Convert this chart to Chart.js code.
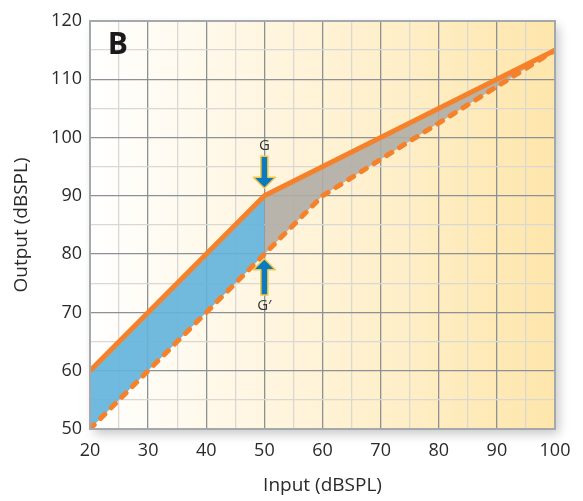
<!DOCTYPE html>
<html lang="en">
<head>
  <meta charset="UTF-8">
  <title>Input / Output</title>
  <script src="https://cdn.jsdelivr.net/npm/chart.js"></script>
  <style>
    html, body { margin: 0; padding: 0; background: #fff; }
    #wrap { width: 583px; height: 501px; }
  </style>
</head>
<body>
  <div id="wrap"><canvas id="ioChart" width="583" height="501"></canvas></div>

  <script>
    const compressedX = [20, 50, 100];
    const compressedY = [60, 90, 115];
    const linearX = [20, 50, 60, 100];
    const linearY = [50, 80, 90, 115];
    const kneeInput = 50;
    const xTicks = [20, 30, 40, 50, 60, 70, 80, 90, 100];
    const yTicks = [50, 60, 70, 80, 90, 100, 110, 120];

    const ORANGE = '#f5822a';
    const FONT = '"Open Sans", "Liberation Sans", sans-serif';

    function toPoints(xs, ys) {
      return xs.map((x, i) => ({ x: x, y: ys[i] }));
    }
    const compressed = toPoints(compressedX, compressedY);
    const linear = toPoints(linearX, linearY);

    // fill regions split at the knee
    const blueTop = compressed.filter(p => p.x <= kneeInput);
    const blueBottom = linear.filter(p => p.x <= kneeInput);
    const greyTop = compressed.filter(p => p.x >= kneeInput);
    const greyBottom = linear.filter(p => p.x >= kneeInput);

    // background gradient, shadow and border of the plot area
    const plotBackground = {
      id: 'plotBackground',
      beforeDraw(chart) {
        const { ctx, chartArea: a } = chart;
        ctx.save();
        ctx.shadowColor = 'rgba(0,0,0,0.22)';
        ctx.shadowBlur = 10;
        ctx.shadowOffsetX = 4;
        ctx.shadowOffsetY = 5;
        ctx.fillStyle = '#fff';
        ctx.fillRect(a.left, a.top, a.width, a.height);
        ctx.restore();
        ctx.save();
        const g = ctx.createLinearGradient(a.left, 0, a.right, 0);
        g.addColorStop(0, '#ffffff');
        g.addColorStop(0.45, '#fff4da');
        g.addColorStop(1, '#fee6ab');
        ctx.fillStyle = g;
        ctx.fillRect(a.left, a.top, a.width, a.height);
        ctx.restore();
      },
      afterDraw(chart) {
        const { ctx, chartArea: a } = chart;
        ctx.save();
        ctx.strokeStyle = '#a4a9ae';
        ctx.lineWidth = 2;
        ctx.strokeRect(a.left, a.top, a.width, a.height);
        ctx.restore();
      }
    };

    function drawArrow(ctx, x, yTail, yTip) {
      const dir = yTip > yTail ? 1 : -1;
      const head = 11 * dir;
      ctx.beginPath();
      ctx.moveTo(x - 3.5, yTail);
      ctx.lineTo(x + 3.5, yTail);
      ctx.lineTo(x + 3.5, yTip - head);
      ctx.lineTo(x + 11, yTip - head);
      ctx.lineTo(x, yTip);
      ctx.lineTo(x - 11, yTip - head);
      ctx.lineTo(x - 3.5, yTip - head);
      ctx.closePath();
      ctx.fillStyle = '#0b7bc0';
      ctx.strokeStyle = '#f4c64a';
      ctx.lineWidth = 1.5;
      ctx.lineJoin = 'round';
      ctx.fill();
      ctx.stroke();
    }

    // G / G' arrows and the panel letter
    const annotations = {
      id: 'annotations',
      afterDatasetsDraw(chart) {
        const { ctx, scales: { x, y } } = chart;
        const px = x.getPixelForValue(kneeInput);
        ctx.save();
        drawArrow(ctx, px, y.getPixelForValue(96.8), y.getPixelForValue(91.3));
        drawArrow(ctx, px, y.getPixelForValue(73), y.getPixelForValue(79.2));
        ctx.fillStyle = '#333';
        ctx.font = '15px ' + FONT;
        ctx.textAlign = 'center';
        ctx.textBaseline = 'middle';
        ctx.fillText('G', px, y.getPixelForValue(98.6));
        ctx.fillText('G\u2032', px, y.getPixelForValue(71.2));
        ctx.font = 'bold 30px ' + FONT;
        ctx.fillStyle = '#1a1a1a';
        ctx.fillText('B', x.getPixelForValue(24.8), y.getPixelForValue(115.8));
        ctx.restore();
      }
    };

    const gridColor = ctx => (ctx.tick && ctx.tick.value % 10 === 0) ? '#8c9196' : '#d9d8d3';

    const ctx = document.getElementById('ioChart').getContext('2d');
    new Chart(ctx, {
      type: 'line',
      data: {
        datasets: [
          {
            data: blueTop, borderWidth: 0, pointRadius: 0,
            fill: '+1', backgroundColor: 'rgba(98,178,220,0.9)', order: 5
          },
          {
            data: blueBottom, borderWidth: 0, pointRadius: 0,
            fill: false, order: 5
          },
          {
            data: greyTop, borderWidth: 0, pointRadius: 0,
            fill: '+1', backgroundColor: 'rgba(176,173,166,0.9)', order: 5
          },
          {
            data: greyBottom, borderWidth: 0, pointRadius: 0,
            fill: false, order: 5
          },
          {
            data: linear, borderColor: ORANGE, borderWidth: 5,
            borderDash: [6, 9], borderCapStyle: 'round',
            pointRadius: 0, fill: false, order: 1
          },
          {
            data: compressed, borderColor: ORANGE, borderWidth: 5,
            borderCapStyle: 'round', borderJoinStyle: 'round',
            pointRadius: 0, fill: false, order: 0
          }
        ]
      },
      options: {
        responsive: false,
        animation: false,
        parsing: false,
        layout: { padding: { top: 21, right: 28, left: 0, bottom: 0 } },
        plugins: {
          legend: { display: false },
          tooltip: { enabled: false },
          filler: { drawTime: 'beforeDatasetsDraw' }
        },
        scales: {
          x: {
            type: 'linear',
            min: xTicks[0], max: xTicks[xTicks.length - 1],
            ticks: {
              stepSize: 5, autoSkip: false, maxRotation: 0, padding: 11,
              color: '#2a2a2a', font: { family: FONT, size: 18 },
              callback: v => xTicks.includes(v) ? v : ''
            },
            grid: { color: gridColor, lineWidth: 1.3, drawTicks: false },
            border: { display: false },
            title: {
              display: true, text: 'Input (dBSPL)', color: '#2a2a2a',
              font: { family: FONT, size: 19 }, padding: { top: 6 }
            },
            afterFit(scale) { scale.height = 72; }
          },
          y: {
            type: 'linear',
            min: yTicks[0], max: yTicks[yTicks.length - 1],
            ticks: {
              stepSize: 5, autoSkip: false, padding: 8,
              color: '#2a2a2a', font: { family: FONT, size: 18 },
              callback: v => yTicks.includes(v) ? v : ''
            },
            grid: { color: gridColor, lineWidth: 1.3, drawTicks: false },
            border: { display: false },
            title: {
              display: true, text: 'Output (dBSPL)', color: '#2a2a2a',
              font: { family: FONT, size: 19 }, padding: { top: 10, bottom: 0 }
            },
            afterFit(scale) { scale.width = 90; }
          }
        }
      },
      plugins: [plotBackground, annotations]
    });
  </script>
</body>
</html>
